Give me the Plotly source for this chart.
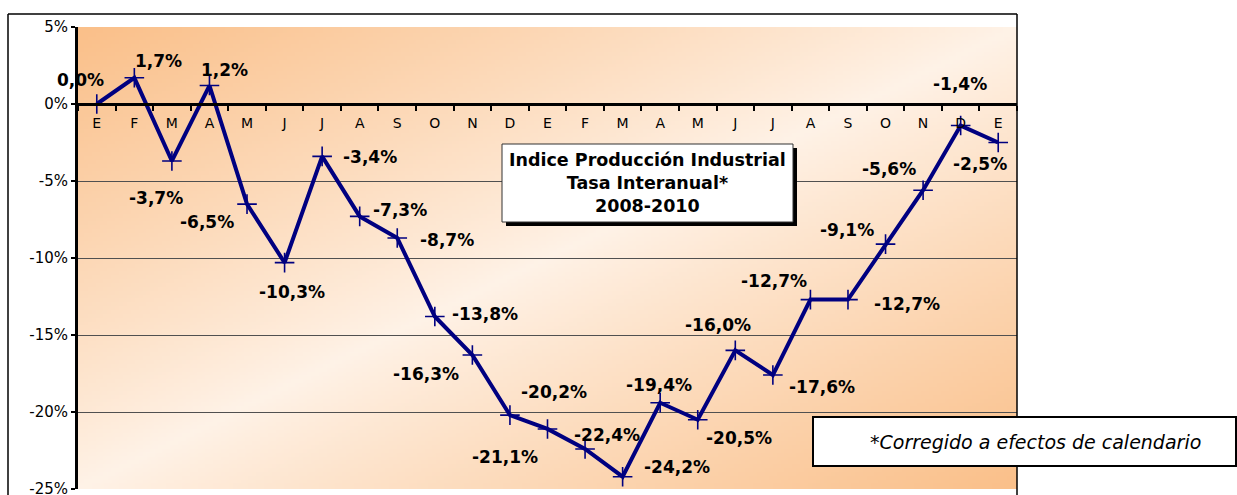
import base64, struct, zlib
import numpy as np
import plotly.graph_objects as go

# ---------------- data ----------------
months = ["E", "F", "M", "A", "M", "J", "J", "A", "S", "O", "N", "D",
          "E", "F", "M", "A", "M", "J", "J", "A", "S", "O", "N", "D", "E"]
values = [0.0, 1.7, -3.7, 1.2, -6.5, -10.3, -3.4, -7.3, -8.7, -13.8, -16.3, -20.2,
          -21.1, -22.4, -24.2, -19.4, -20.5, -16.0, -17.6, -12.7, -12.7, -9.1, -5.6, -1.4, -2.5]
y_ticks = [5, 0, -5, -10, -15, -20, -25]
y_tick_labels = ["5%", "0%", "-5%", "-10%", "-15%", "-20%", "-25%"]
title_lines = ["Indice Producción Industrial", "Tasa Interanual*", "2008-2010"]
footnote = "*Corregido a efectos de calendario"

# label offsets in pixels (dx right, dy down) relative to each point
label_offsets = [(-16, -24), (24, -17), (-16, 37), (15, -16), (-40, 18), (7, 29),
                 (48, 1), (40, -6), (50, 2), (50, -3), (-46, 19), (44, -23),
                 (-43, 28), (22, -14), (54, -10), (-1, -18), (41, 18), (-17, -25),
                 (49, 12), (-36, -19), (59, 4), (-39, -14), (-34, -21), (-1, -42),
                 (-18, 21)]

# ---------------- geometry ----------------
W, H = 1237, 495
L, R, T, B = 78, 1017, 27, 489


def px(xp):
    return (xp - L) / (R - L)


def py(yp):
    return (B - yp) / (B - T)


# ---------------- background gradient image ----------------
def make_png(arr):
    h, w, _ = arr.shape
    raw = b"".join(b"\x00" + arr[i].tobytes() for i in range(h))

    def chunk(tag, data):
        c = struct.pack(">I", len(data)) + tag + data
        return c + struct.pack(">I", zlib.crc32(tag + data) & 0xFFFFFFFF)

    return (b"\x89PNG\r\n\x1a\n" + chunk(b"IHDR", struct.pack(">IIBBBBB", w, h, 8, 2, 0, 0, 0))
            + chunk(b"IDAT", zlib.compress(raw, 9)) + chunk(b"IEND", b""))


gw, gh = 240, 120
nx = np.linspace(0, 1, gw)[None, :]
ny = np.linspace(0, 1, gh)[:, None]
t = np.clip(np.abs(nx + ny - 1.0), 0, 1) ** 0.9
light = np.array([255, 243, 232], float)
orange = np.array([250, 192, 138], float)
img = (light[None, None, :] + (orange - light)[None, None, :] * t[..., None]).astype(np.uint8)
src = "data:image/png;base64," + base64.b64encode(make_png(img)).decode()

# ---------------- figure ----------------
fig = go.Figure()
xs = list(range(len(values)))
fig.add_trace(go.Scatter(
    x=xs, y=values, mode="lines+markers",
    line=dict(color="#000080", width=4),
    marker=dict(symbol="cross-thin", size=14, line=dict(color="#000080", width=1.6)),
    hoverinfo="skip", showlegend=False))

annotations = []
for i, v in enumerate(values):
    dx, dy = label_offsets[i]
    annotations.append(dict(
        x=i, y=v, xref="x", yref="y", text=f"{v:.1f}".replace(".", ",") + "%",
        showarrow=False, xshift=dx, yshift=-dy, xanchor="center", yanchor="middle",
        font=dict(family="DejaVu Sans", size=17, color="black", weight="bold")))

annotations.append(dict(
    x=px(647.5), y=py(183), xref="paper", yref="paper", text="<br>".join(title_lines),
    showarrow=False, align="center", xanchor="center", yanchor="middle",
    font=dict(family="DejaVu Sans", size=17.5, color="black", weight="bold")))
annotations.append(dict(
    x=px(1035), y=py(442), xref="paper", yref="paper", text=footnote,
    showarrow=False, xanchor="center", yanchor="middle",
    font=dict(family="DejaVu Sans", size=19, color="black", style="italic")))

shapes = [
    # outer frame
    dict(type="line", xref="paper", yref="paper", x0=px(8), x1=px(8), y0=py(14), y1=py(500),
         line=dict(color="black", width=1.5)),
    dict(type="line", xref="paper", yref="paper", x0=px(8), x1=px(1017), y0=py(14), y1=py(14),
         line=dict(color="black", width=1.5)),
    dict(type="line", xref="paper", yref="paper", x0=px(1017), x1=px(1017), y0=py(14), y1=py(500),
         line=dict(color="black", width=1.5)),
    # title box with shadow
    dict(type="rect", xref="paper", yref="paper", x0=px(506), x1=px(797), y0=py(226), y1=py(148),
         fillcolor="black", line=dict(width=0), layer="above"),
    dict(type="rect", xref="paper", yref="paper", x0=px(502), x1=px(793), y0=py(222), y1=py(144),
         fillcolor="white", line=dict(color="#333333", width=1), layer="above"),
    # footnote box
    dict(type="rect", xref="paper", yref="paper", x0=px(813), x1=px(1236), y0=py(466), y1=py(417),
         fillcolor="white", line=dict(color="black", width=2), layer="above"),
]

fig.update_layout(
    width=W, height=H,
    margin=dict(l=L, r=W - R, t=T, b=H - B, autoexpand=False),
    paper_bgcolor="white", plot_bgcolor="white",
    images=[dict(source=src, xref="paper", yref="paper", x=0, y=1, sizex=1, sizey=1,
                 sizing="stretch", layer="below")],
    annotations=annotations, shapes=shapes,
    xaxis=dict(range=[-0.5, len(values) - 0.5], tickmode="array", tickvals=xs, ticktext=months,
               ticks="", showgrid=False, zeroline=False, automargin=False,
               showline=True, linecolor="black", linewidth=3,
               anchor="free", position=25 / 30, ticklabelstandoff=5,
               tickfont=dict(family="DejaVu Sans", size=14, color="black"),
               minor=dict(tickmode="array", tickvals=[i + 0.5 for i in range(-1, len(values))],
                          ticks="outside", ticklen=5, tickwidth=2, tickcolor="black")),
    yaxis=dict(range=[-25, 5], tickmode="array", tickvals=y_ticks, ticktext=y_tick_labels,
               ticks="outside", ticklen=4, tickwidth=2, tickcolor="black", automargin=False,
               showline=True, linecolor="black", linewidth=3, ticklabeloverflow="allow",
               showgrid=True, gridcolor="#505050", gridwidth=1, zeroline=False,
               tickfont=dict(family="DejaVu Sans", size=15, color="black")),
    font=dict(family="DejaVu Sans"),
)

fig.write_html("out.html", config={"displayModeBar": False},
               post_script="document.body.style.margin='0';document.body.style.overflow='hidden';")
